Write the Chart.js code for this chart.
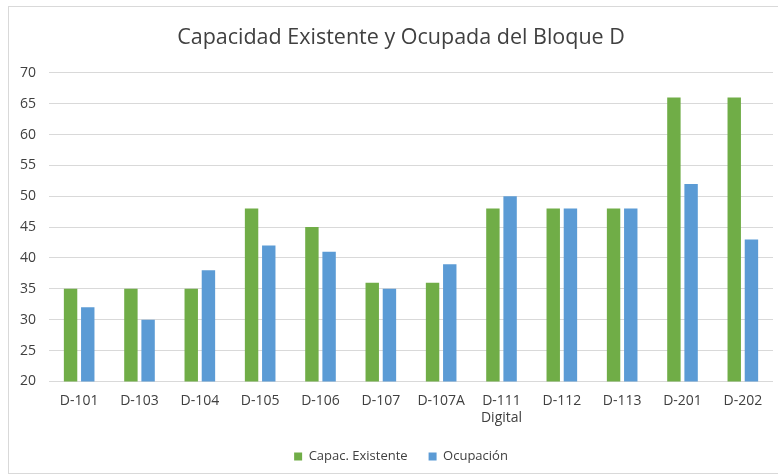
<!DOCTYPE html>
<html>
<head>
<meta charset="utf-8">
<script src="https://cdn.jsdelivr.net/npm/chart.js@4"></script>
<style>
  body { margin: 0; background: #fff; }
  #marco { position: absolute; left: 8px; top: 6px; width: 772px; height: 468px; border: 1px solid #d9d9d9; box-sizing: border-box; }
</style>
</head>
<body>
<div id="marco"><canvas id="grafico"></canvas></div>
<script>
// datos
const salones = ["D-101", "D-103", "D-104", "D-105", "D-106", "D-107", "D-107A", ["D-111", "Digital"], "D-112", "D-113", "D-201", "D-202"]
const capacidadExistente = [35, 35, 35, 48, 45, 36, 36, 48, 48, 48, 66, 66]
const ocupacion = [32, 30, 38, 42, 41, 35, 39, 50, 48, 48, 52, 43]

const fuente = "'Open Sans', sans-serif"

// el eje y es estrecho, se quita el recorte para que las etiquetas se vean enteras
const sinRecorteY = {
  id: 'sinRecorteY',
  beforeDraw(chart) { chart.scales.y.left = 0 }
}

new Chart(document.getElementById('grafico'), {
  type: 'bar',
  data: {
    labels: salones,
    datasets: [
      {
        label: 'Capac. Existente',
        data: capacidadExistente,
        backgroundColor: '#70ad47',
        categoryPercentage: 0.57,
        barPercentage: 0.78
      },
      {
        label: 'Ocupación',
        data: ocupacion,
        backgroundColor: '#5b9bd5',
        categoryPercentage: 0.57,
        barPercentage: 0.78
      }
    ]
  },
  options: {
    responsive: true,
    maintainAspectRatio: false,
    animation: false,
    layout: { padding: { left: 20, right: 6, top: 10, bottom: 0 } },
    plugins: {
      title: {
        display: true,
        text: 'Capacidad Existente y Ocupada del Bloque D',
        color: '#404040',
        font: { family: fuente, size: 21.5, weight: 'normal' },
        padding: { top: 8, bottom: 22 }
      },
      legend: {
        position: 'bottom',
        labels: {
          boxWidth: 8, boxHeight: 8,
          color: '#404040',
          font: { family: fuente, size: 13 },
          padding: 21
        }
      },
      tooltip: { enabled: false }
    },
    scales: {
      x: {
        grid: { display: false },
        border: { display: false },
        ticks: { color: '#404040', font: { family: fuente, size: 14 }, maxRotation: 0, autoSkip: false, padding: 3 }
      },
      y: {
        min: 20, max: 70,
        // ancho fijo del eje para dejar las etiquetas a la izquierda
        afterFit: function (eje) { eje.width = 20 },
        ticks: { stepSize: 5, color: '#404040', font: { family: fuente, size: 14 }, padding: 13 },
        grid: { color: '#d9d9d9', drawTicks: false },
        border: { display: false }
      }
    }
  },
  plugins: [sinRecorteY]
})
</script>
</body>
</html>
